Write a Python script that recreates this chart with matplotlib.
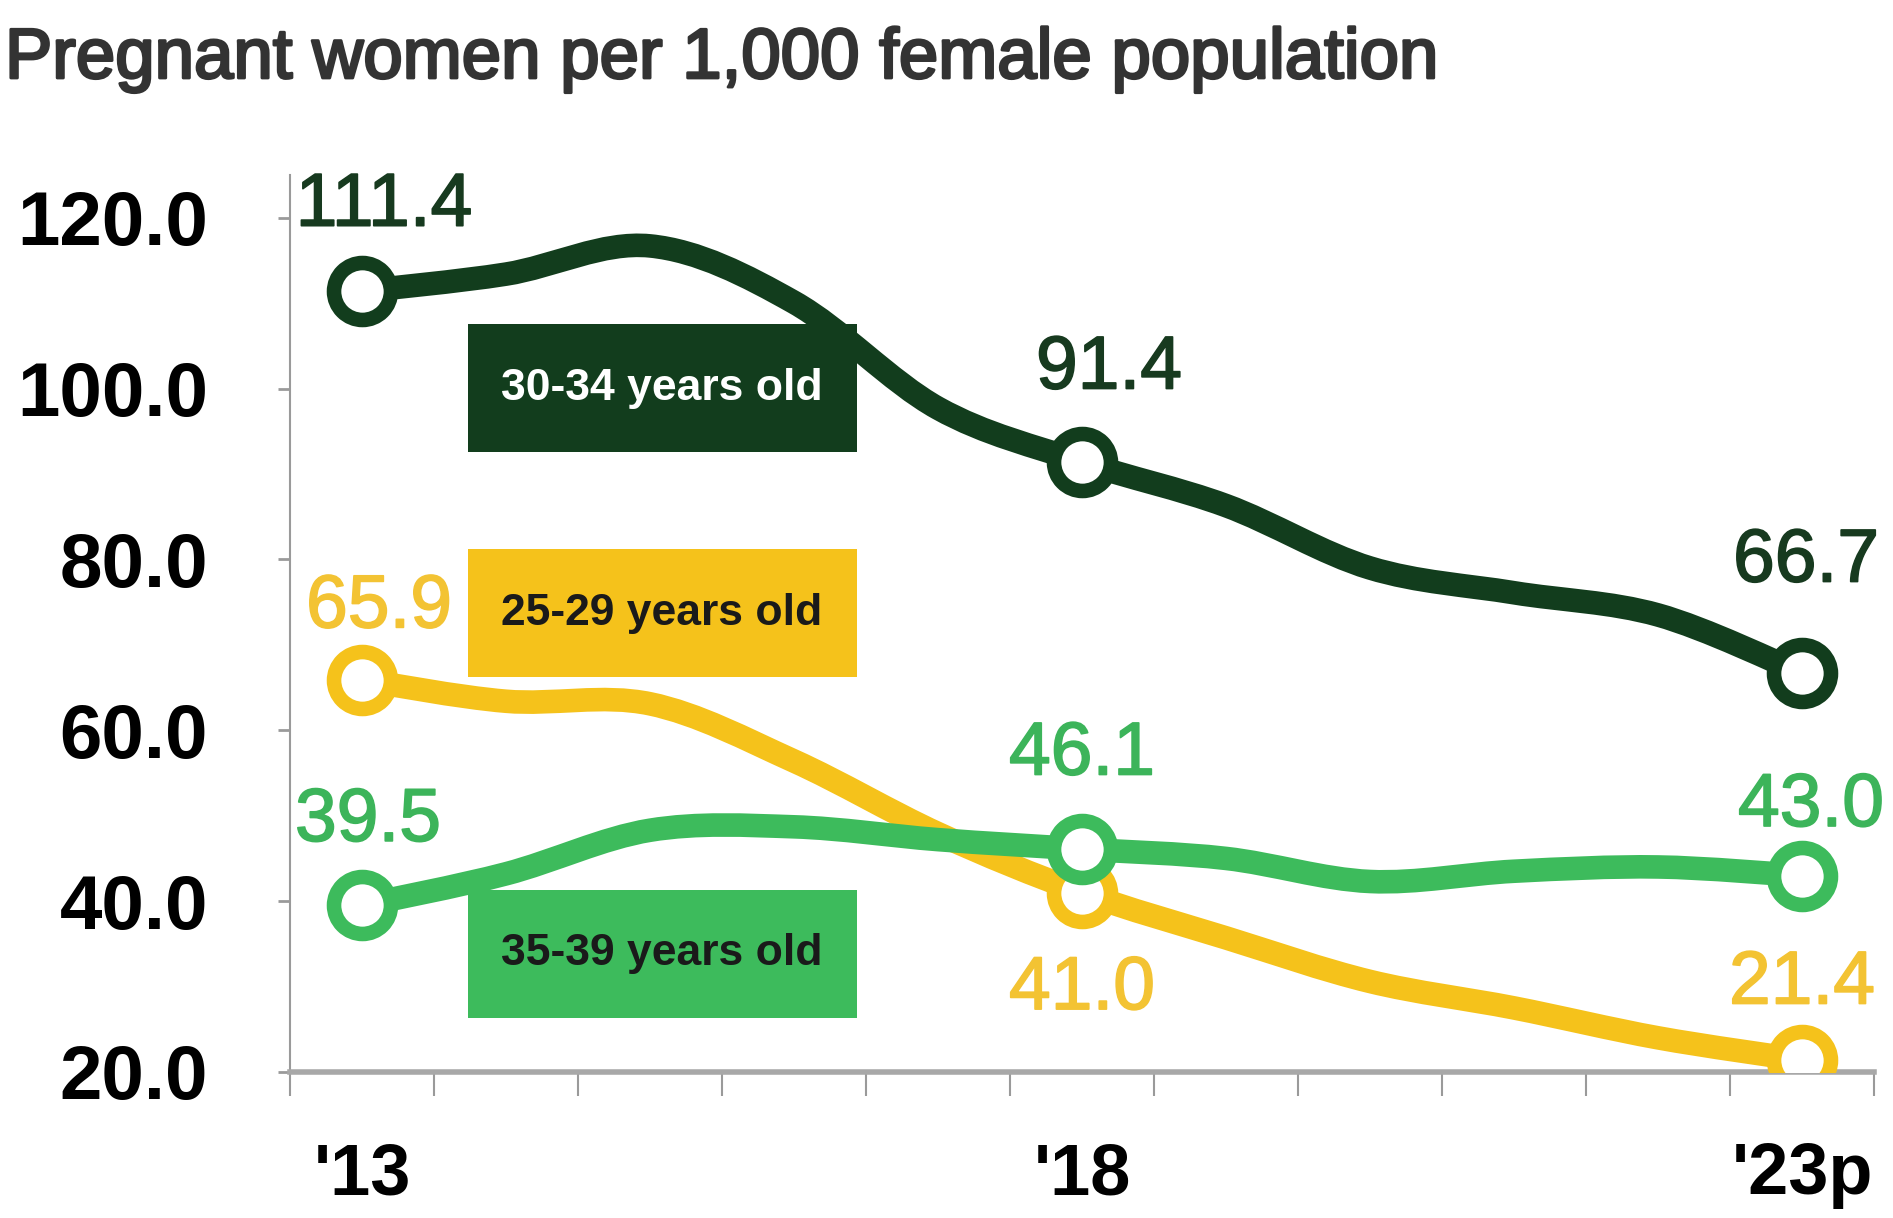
import numpy as np
import matplotlib.pyplot as plt
import matplotlib.patheffects as pe
from matplotlib.path import Path
from matplotlib.patches import PathPatch, Rectangle

years = ["'13", "'14", "'15", "'16", "'17", "'18", "'19", "'20", "'21", "'22", "'23p"]
age_30_34 = [111.4, 113.4, 116.7, 110.1, 97.7, 91.4, 86.3, 79.0, 76.1, 73.5, 66.7]
age_25_29 = [65.9, 63.4, 63.1, 56.4, 47.9, 41.0, 35.7, 30.6, 27.5, 24.0, 21.4]
age_35_39 = [39.5, 43.2, 48.3, 48.7, 47.2, 46.1, 45.0, 42.3, 43.5, 44.0, 43.0]
series_names = ["30-34 years old", "25-29 years old", "35-39 years old"]
labelled = [0, 5, 10]
y_ticks = [20, 40, 60, 80, 100, 120]

DARK = "#123d1d"
YELLOW = "#f5c21b"
GREEN = "#3dbb5c"

ARIAL = ["Liberation Sans", "DejaVu Sans"]


def smooth_path(xs, ys):
    # catmull-rom through the points, as cubic bezier segments
    pts = np.column_stack([xs, ys]).astype(float)
    ext = np.vstack([pts[0], pts, pts[-1]])
    verts = [pts[0]]
    codes = [Path.MOVETO]
    for i in range(len(pts) - 1):
        p0, p1, p2, p3 = ext[i], ext[i + 1], ext[i + 2], ext[i + 3]
        verts += [p1 + (p2 - p0) / 6, p2 - (p3 - p1) / 6, p2]
        codes += [Path.CURVE4] * 3
    return Path(verts, codes)


def thick(col, w=1.2):
    return [pe.withStroke(linewidth=w, foreground=col)]


fig = plt.figure(figsize=(18.93, 12.18), dpi=100)
ax = fig.add_axes([290 / 1893, 1 - 1072 / 1218, (1874 - 290) / 1893, (1072 - 175) / 1218])

x = np.arange(len(years))

# (values, line colour, text colour, label offsets in pixels)
series = [
    (age_25_29, YELLOW, "#f3c333", [(17, 72), (0, -97), (0, 76)]),
    (age_35_39, GREEN, "#3cb45a", [(6, 84), (0, 94), (9, 69)]),
    (age_30_34, DARK, "#173a1f", [(22, 85), (27, 93), (4, 111)]),
]

for vals, col, tcol, offs in series:
    patch = PathPatch(smooth_path(x, vals), fill=False, edgecolor=col, lw=17,
                      capstyle="round", joinstyle="round", zorder=2)
    ax.add_patch(patch)
    ax.plot(x[labelled], np.array(vals)[labelled], "o", ms=41, mfc="white",
            mec=col, mew=10.5, zorder=3)
    for idx, (dx, dy) in zip(labelled, offs):
        ax.annotate(f"{vals[idx]:.1f}", (x[idx], vals[idx]), xytext=(dx, dy),
                    textcoords="offset pixels", ha="center", va="center",
                    fontsize=54, color=tcol, family=ARIAL, zorder=4,
                    path_effects=thick(tcol))

ax.set_xlim(-0.5, len(years) - 0.5)
ax.set_ylim(20, 125)
ax.set_yticks(y_ticks)
ax.set_yticklabels([f"{v:.1f}" for v in y_ticks], fontsize=55, fontweight="bold",
                   family=ARIAL)
ax.set_xticks(x[labelled])
ax.set_xticklabels([years[i] for i in labelled], fontsize=52, fontweight="bold",
                   family=ARIAL)
ax.set_xticks(np.arange(len(years) + 1) - 0.5, minor=True)
ax.tick_params(axis="x", which="major", length=0, pad=50)
ax.tick_params(axis="x", which="minor", length=17, width=1.5, color="#9a9a9a",
               direction="out")
ax.tick_params(axis="y", length=9, width=2, color="#9a9a9a", pad=50)

for s in ["top", "right"]:
    ax.spines[s].set_visible(False)
ax.spines["left"].set_color("#9a9a9a")
ax.spines["left"].set_linewidth(1.5)
ax.spines["bottom"].set_color("#a8a8a8")
ax.spines["bottom"].set_linewidth(4)

# legend boxes
box_colors = [(DARK, "white"), (YELLOW, "#1a1a1a"), (GREEN, "#1a1a1a")]
box_tops = [324, 549, 890]
for name, (bc, tc), top in zip(series_names, box_colors, box_tops):
    fig.patches.append(Rectangle((468 / 1893, 1 - (top + 128) / 1218), 389 / 1893, 128 / 1218,
                                 transform=fig.transFigure, facecolor=bc,
                                 edgecolor="none", zorder=5))
    fig.text(662 / 1893, 1 - (top + 64) / 1218, name, ha="center", va="center",
             fontsize=32, fontweight="bold", color=tc, family=ARIAL, zorder=6)

fig.text(5 / 1893, 1 - 60 / 1218, "Pregnant women per 1,000 female population",
         ha="left", va="center", fontsize=51, color="#333333", family=ARIAL,
         path_effects=thick("#333333", 2))

fig.savefig("out.png", dpi=100, facecolor="white")
